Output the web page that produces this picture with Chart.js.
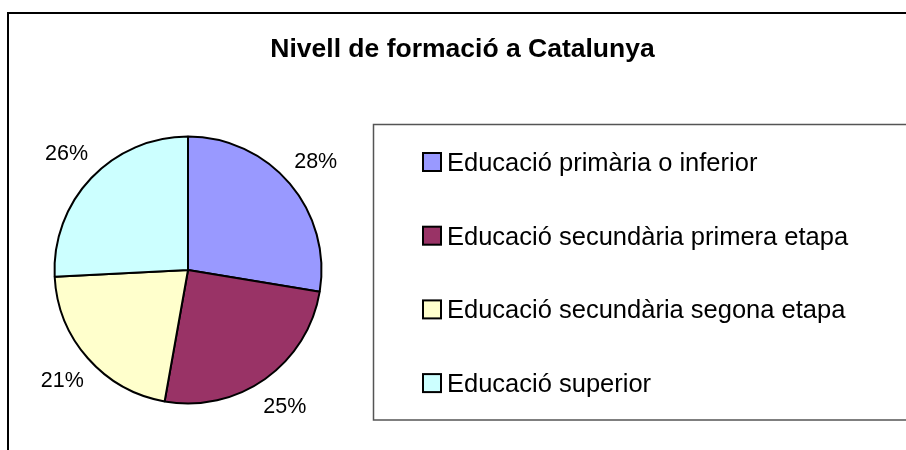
<!DOCTYPE html>
<html>
<head>
<meta charset="utf-8">
<script src="https://cdn.jsdelivr.net/npm/chart.js@4/dist/chart.umd.min.js"></script>
<style>
  html, body { margin: 0; padding: 0; background: #fff; }
  #wrap { width: 906px; height: 450px; }
</style>
</head>
<body>
<div id="wrap"><canvas id="pieChart" width="906" height="450"></canvas></div>
<script>
const chartTitle = 'Nivell de formació a Catalunya';
const categories = [
    'Educació primària o inferior',
    'Educació secundària primera etapa',
    'Educació secundària segona etapa',
    'Educació superior'
];
const shares = [27.6, 25.2, 21.4, 25.8];
const sliceColors = ['#9999FF', '#993366', '#FFFFCC', '#CCFFFF'];

const FONT = 'Arial, "Liberation Sans", sans-serif';

// frame, title, legend box and the percent labels
const decorPlugin = {
    id: 'decor',
    beforeDraw(chart) {
        const ctx = chart.ctx;
        ctx.save();
        ctx.fillStyle = '#fff';
        ctx.fillRect(0, 0, chart.width, chart.height);
        ctx.strokeStyle = '#000';
        ctx.lineWidth = 2;
        ctx.strokeRect(8, 13, 920, 460);
        ctx.restore();
    },
    afterDraw(chart) {
        const ctx = chart.ctx;
        ctx.save();

        // title
        ctx.fillStyle = '#000';
        ctx.font = 'bold 26.5px ' + FONT;
        ctx.textAlign = 'center';
        ctx.textBaseline = 'alphabetic';
        ctx.fillText(chartTitle, 462.5, 57);

        // legend box
        ctx.strokeStyle = '#555';
        ctx.lineWidth = 1.5;
        ctx.strokeRect(373.5, 124.5, 560, 295.5);

        const ds = chart.data.datasets[0];
        ctx.font = '25.5px ' + FONT;
        ctx.textAlign = 'left';
        chart.data.labels.forEach((lab, i) => {
            const cy = 162 + i * 73.7;
            ctx.fillStyle = ds.backgroundColor[i];
            ctx.fillRect(423, cy - 9, 18, 18);
            ctx.strokeStyle = '#000';
            ctx.lineWidth = 2;
            ctx.strokeRect(423, cy - 9, 18, 18);
            ctx.fillStyle = '#000';
            ctx.fillText(lab, 447, cy + 9);
        });

        // percent labels outside the slices
        const meta = chart.getDatasetMeta(0);
        const total = ds.data.reduce((a, b) => a + b, 0);
        ctx.font = '21.5px ' + FONT;
        ctx.textAlign = 'center';
        ctx.textBaseline = 'middle';
        meta.data.forEach((arc, i) => {
            const p = arc.getProps(['x', 'y', 'startAngle', 'endAngle', 'outerRadius'], true);
            const mid = (p.startAngle + p.endAngle) / 2;
            const r = p.outerRadius + 34;
            const txt = Math.round(ds.data[i] / total * 100) + '%';
            ctx.fillText(txt, p.x + Math.cos(mid) * r, p.y + Math.sin(mid) * r);
        });
        ctx.restore();
    }
};

new Chart(document.getElementById('pieChart'), {
    type: 'pie',
    data: {
        labels: categories,
        datasets: [{
            data: shares,
            backgroundColor: sliceColors,
            borderColor: '#000',
            borderWidth: 2
        }]
    },
    options: {
        responsive: false,
        animation: false,
        events: [],
        layout: { padding: { left: 53.5, right: 583.5, top: 135.5, bottom: 45.5 } },
        plugins: {
            legend: { display: false },
            title: { display: false },
            tooltip: { enabled: false }
        }
    },
    plugins: [decorPlugin]
});
</script>
</body>
</html>
